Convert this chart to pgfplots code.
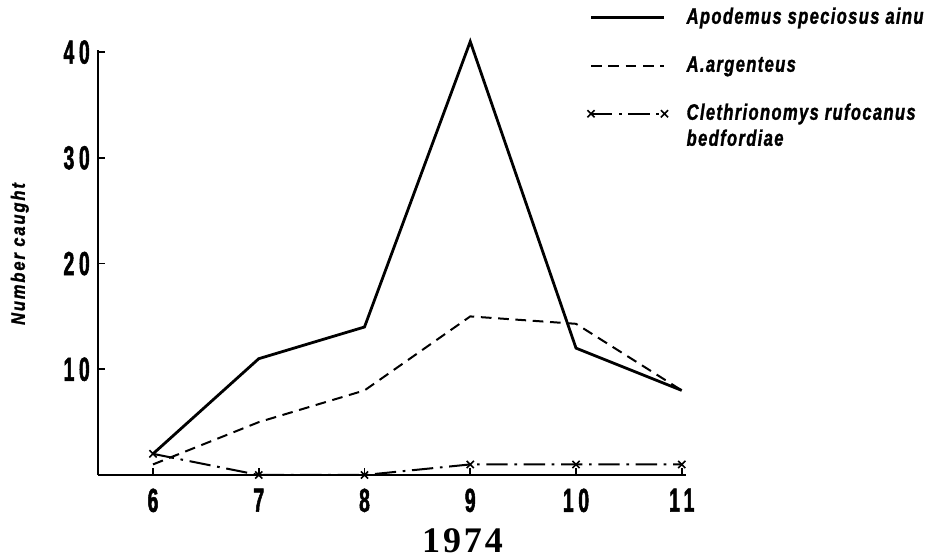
\documentclass[border=0pt]{standalone}
\usepackage{pgfplots}
\pgfplotsset{compat=1.18}
\usepackage{fontspec}
\setmainfont{Liberation Sans}
\newfontfamily\legfont{Liberation Sans}[FakeStretch=0.74, LetterSpace=6, BoldItalicFeatures={FakeBold=1.3}]
\newfontfamily\labfont{Liberation Sans}[FakeStretch=0.85, LetterSpace=10, BoldItalicFeatures={FakeBold=1.3}]
\newfontfamily\tickfont{Liberation Sans}[FakeStretch=0.58, LetterSpace=14, BoldFeatures={FakeBold=1.5}]
\newfontfamily\yearfont{Liberation Serif}[LetterSpace=8]
\pgfplotsset{
  myline/.style={legend image code/.code={\draw[##1] (0pt,0pt) -- (55pt,0pt);}},
  mymark/.style={legend image code/.code={\draw[##1] plot coordinates {(0pt,0pt) (55pt,0pt)};}},
}
\begin{document}
\begin{tikzpicture}
\begin{axis}[
  name=ax,
  at={(0,0)}, anchor=south west,
  scale only axis,
  width=441pt, height=318.75pt,
  xmin=5.48, xmax=11.04,
  ymin=0, ymax=40.2,
  axis x line=bottom, axis y line=left,
  axis line style={-, line width=1.5pt},
  xtick={6,7,8,9,10,11},
  xticklabels={6,7,8,9,10,11},
  ytick={10,20,30,40},
  yticklabels={10,20,30,40},
  tick style={line width=1.2pt, black},
  major tick length=5pt,
  tick align=inside,
  ticklabel style={font=\tickfont\bfseries\fontsize{25}{25}\selectfont, inner sep=0pt},
  xticklabel style={yshift=-10pt},
  yticklabel style={xshift=-6pt},
  xlabel={\yearfont\bfseries\fontsize{27}{27}\selectfont 1974},
  xlabel style={at={(axis description cs:0.62,-0.155)}, anchor=center},
  ylabel={\labfont\bfseries\itshape\fontsize{14.5}{14.5}\selectfont Number caught},
  ylabel style={at={(axis description cs:-0.133,0.52)}, anchor=center},
  legend style={at={(axis description cs:0.832,1.10)}, anchor=north west,
    draw=none, fill=none, inner sep=0pt, row sep=21pt, column sep=14pt,
    font=\legfont\bfseries\itshape\fontsize{16.8}{19}\selectfont,
    nodes={inner sep=0pt, text height=12pt, text depth=3pt}},
  legend cell align=left,
  clip=false,
]
\addplot[black, line width=2.1pt, solid, myline]
  coordinates {(6,2) (7,11) (8,14) (9,41) (10,12) (11,8)};
\addlegendentry{Apodemus speciosus ainu}
\addplot[black, line width=1.5pt, dash pattern=on 8pt off 5pt, myline]
  coordinates {(6,1) (7,5) (8,8) (9,15) (10,14.3) (11,8)};
\addlegendentry{A.argenteus}
\addplot[black, line width=1.5pt, dash pattern=on 16pt off 5pt on 2pt off 5pt,
  mark=x, mark size=3.8pt, mark options={solid, line width=1.2pt}, mymark]
  coordinates {(6,2) (7,0) (8,0) (9,1) (10,1) (11,1)};
\addlegendentry{\vtop{\baselineskip=19.5pt\hbox{Clethrionomys rufocanus}\hbox{bedfordiae}}}
\end{axis}
\pgfresetboundingbox
\path (ax.south west) ++(-73.5pt,-63.75pt) rectangle ++(699pt,420pt);
\end{tikzpicture}
\end{document}
